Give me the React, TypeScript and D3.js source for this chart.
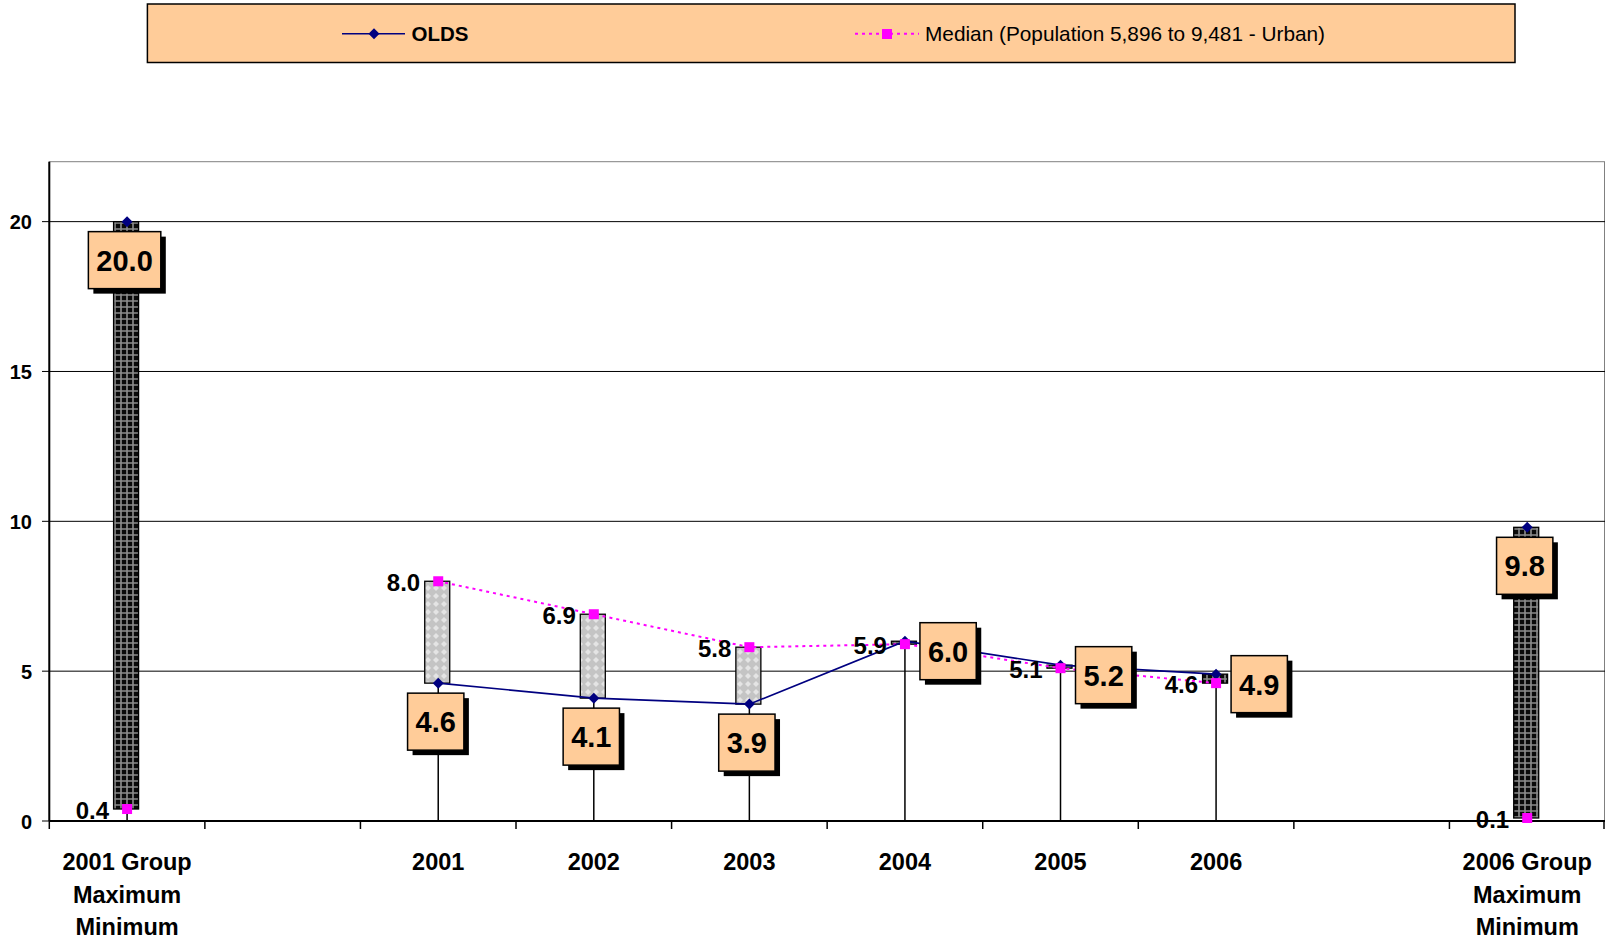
import React from 'react';
import * as d3 from 'd3';

const categories = ["2001 Group", "gapA", "2001", "2002", "2003", "2004", "2005", "2006", "gapB", "2006 Group"];
const categoryLabels: string[][] = [
  ["2001 Group", "Maximum", "Minimum"], [], ["2001"], ["2002"], ["2003"], ["2004"], ["2005"], ["2006"], [],
  ["2006 Group", "Maximum", "Minimum"],
];
const groupCategories = ["2001 Group", "2006 Group"];
const oldsValues: (number | null)[] = [20.0, null, 4.6, 4.1, 3.9, 6.0, 5.2, 4.9, null, 9.8];
const medianValues: (number | null)[] = [0.4, null, 8.0, 6.9, 5.8, 5.9, 5.1, 4.6, null, 0.1];
const yTicks = [0, 5, 10, 15, 20];
const yMax = 22;
const seriesNames = ["OLDS", "Median (Population 5,896 to 9,481 - Urban)"];

const W = 1605;
const H = 941;
const plot = { left: 49.3, right: 1605, top: 161.7, bottom: 821 };
const FONT = "'Liberation Sans', Arial, sans-serif";
const NAVY = "#000080";
const MAGENTA = "#FF00FF";
const PEACH = "#FFCC99";

function textW(s: string, fs: number) {
  let w = 0;
  for (const c of s) w += c === '.' ? 0.278 : 0.556;
  return w * fs;
}

export default function App() {
  const x = d3.scaleBand<string>().domain(categories).range([plot.left, plot.right]).padding(0);
  const y = d3.scaleLinear().domain([0, yMax]).range([plot.bottom, plot.top]);
  const cx = (i: number) => (x(categories[i]) as number) + x.bandwidth() / 2;

  const line = d3.line<number | null>()
    .defined((d) => d != null)
    .x((_, i) => cx(i))
    .y((d) => y(d as number));

  const barW = 25;
  const boxH = 57;
  const boxFs = 29;

  const diamond = (px: number, py: number, r = 5.5) =>
    `M${px},${py - r}L${px + r},${py}L${px},${py + r}L${px - r},${py}Z`;

  return (
    <svg width={W} height={H} style={{ position: 'absolute', left: 0, top: 0, background: '#fff' }}
      fontFamily={FONT}>
      <defs>
        <pattern id="darkGrid" width="6" height="6" patternUnits="userSpaceOnUse">
          <rect width="6" height="6" fill="#0a0a0a" />
          <path d="M0,1H6M1,0V6" stroke="#8c8c8c" strokeWidth="1.6" />
        </pattern>
        <pattern id="lightDots" width="8" height="8" patternUnits="userSpaceOnUse">
          <rect width="8" height="8" fill="#c4c4c4" />
          <path d="M4,1L7,4L4,7L1,4Z" fill="#e4e4e4" />
        </pattern>
      </defs>

      {/* legend */}
      <rect x={147.4} y={4} width={1367.6} height={58.5} fill={PEACH} stroke="#000" strokeWidth={1.5} />
      <line x1={342} x2={405} y1={33.8} y2={33.8} stroke={NAVY} strokeWidth={1.6} />
      <path d={diamond(374, 33.8)} fill={NAVY} />
      <text x={411.5} y={41} fontSize={20.5} fontWeight="bold">{seriesNames[0]}</text>
      <line x1={855} x2={919} y1={33.8} y2={33.8} stroke={MAGENTA} strokeWidth={2} strokeDasharray="3,4" />
      <rect x={882} y={29} width={10} height={10} fill={MAGENTA} />
      <text x={925} y={41} fontSize={20.8}>{seriesNames[1]}</text>

      {/* plot border */}
      <rect x={plot.left} y={plot.top} width={plot.right - plot.left - 0.5} height={plot.bottom - plot.top}
        fill="none" stroke="#808080" strokeWidth={1} />

      {/* gridlines and y ticks */}
      {yTicks.map((t) => (
        <g key={t}>
          {t > 0 && <line x1={plot.left} x2={plot.right} y1={y(t)} y2={y(t)} stroke="#000" strokeWidth={1} />}
          <line x1={42} x2={plot.left} y1={y(t)} y2={y(t)} stroke="#000" strokeWidth={1} />
          <text x={32} y={y(t) + 7.5} fontSize={20} fontWeight="bold" textAnchor="end">{t}</text>
        </g>
      ))}

      {/* drop lines */}
      {categories.map((c, i) => {
        const a = oldsValues[i], b = medianValues[i];
        if (a == null || b == null) return null;
        return <line key={'d' + c} x1={cx(i)} x2={cx(i)} y1={y(Math.max(a, b))} y2={y(0)} stroke="#000" strokeWidth={1.5} />;
      })}

      {/* up/down bars */}
      {categories.map((c, i) => {
        const a = oldsValues[i], b = medianValues[i];
        if (a == null || b == null) return null;
        const down = a > b;
        const y0 = y(Math.max(a, b)), y1 = y(Math.min(a, b));
        return <rect key={'b' + c} x={cx(i) - barW / 2 - 1} y={y0} width={barW} height={Math.max(y1 - y0, 2)}
          fill={down ? 'url(#darkGrid)' : 'url(#lightDots)'} stroke="#000" strokeWidth={1.3} />;
      })}

      {/* axes */}
      <line x1={plot.left} x2={plot.left} y1={plot.top} y2={plot.bottom} stroke="#000" strokeWidth={2} />
      <line x1={plot.left} x2={plot.right} y1={plot.bottom} y2={plot.bottom} stroke="#000" strokeWidth={2} />
      {categories.map((c, i) => (
        <line key={'t' + c} x1={x(c) as number} x2={x(c) as number} y1={plot.bottom} y2={plot.bottom + 8} stroke="#000" strokeWidth={1.5} />
      ))}
      <line x1={plot.right - 1} x2={plot.right - 1} y1={plot.bottom} y2={plot.bottom + 8} stroke="#000" strokeWidth={1.5} />

      {/* x labels */}
      {categories.map((c, i) => (
        <g key={'xl' + c}>
          {categoryLabels[i].map((ln, k) => (
            <text key={k} x={cx(i)} y={870 + k * 32.5} fontSize={23.5} fontWeight="bold" textAnchor="middle">{ln}</text>
          ))}
        </g>
      ))}

      {/* series lines */}
      <path d={line(medianValues) || ''} fill="none" stroke={MAGENTA} strokeWidth={2} strokeDasharray="3,4" />
      <path d={line(oldsValues) || ''} fill="none" stroke={NAVY} strokeWidth={1.6} />

      {/* markers */}
      {categories.map((c, i) => {
        const a = oldsValues[i], b = medianValues[i];
        return (
          <g key={'m' + c}>
            {a != null && <path d={diamond(cx(i), y(a))} fill={NAVY} />}
            {b != null && <rect x={cx(i) - 5} y={y(b) - 5} width={10} height={10} fill={MAGENTA} />}
          </g>
        );
      })}

      {/* median labels */}
      {categories.map((c, i) => {
        const b = medianValues[i];
        if (b == null) return null;
        return <text key={'ml' + c} x={cx(i) - 18} y={y(b) + 9.5} fontSize={24} fontWeight="bold" textAnchor="end">{b.toFixed(1)}</text>;
      })}

      {/* OLDS labels */}
      {categories.map((c, i) => {
        const a = oldsValues[i], b = medianValues[i];
        if (a == null || b == null) return null;
        const s = a.toFixed(1);
        const bw = textW(s, boxFs) + 16;
        const px = cx(i), py = y(a);
        const below = groupCategories.includes(c) || a < b;
        const bx = below ? px - 2.5 - bw / 2 : px + 15;
        const by = below ? py + 10 : py + 10 - boxH / 2;
        return (
          <g key={'ol' + c}>
            <rect x={bx + 5} y={by + 5} width={bw} height={boxH} fill="#000" />
            <rect x={bx} y={by} width={bw} height={boxH} fill={PEACH} stroke="#000" strokeWidth={1.5} />
            <text x={bx + bw / 2} y={by + boxH / 2 + 10.5} fontSize={boxFs} fontWeight="bold" textAnchor="middle">{s}</text>
          </g>
        );
      })}
    </svg>
  );
}
